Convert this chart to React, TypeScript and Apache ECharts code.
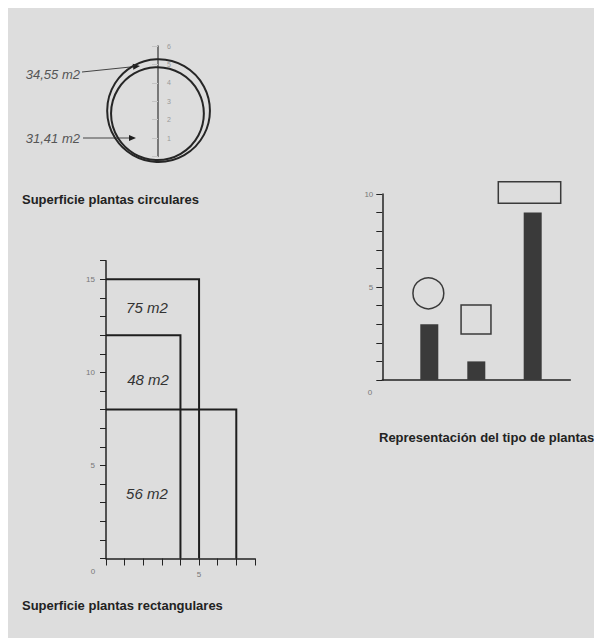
import React, { useEffect, useRef } from 'react';
import * as echarts from 'echarts';

// ---- circle chart ----
const circleLabels = ['34,55 m2', '31,41 m2'];
const circleCenterX = [0.03, -0.03];
const circleCenterY = [2.49, 2.33];
const circleRadius = [2.79, 2.52];

// ---- rectangle chart ----
const rectLabels = ['75 m2', '48 m2', '56 m2'];
const rectWidths = [5, 4, 7];
const rectHeights = [15, 12, 8];
const rectLabelX = [2.2, 2.26, 2.2];
const rectLabelY = [13.46, 9.6, 3.5];

// ---- plant type chart ----
const barX = [2.5, 5, 8];
const barValues = [3, 1, 9];
const iconCircle = [2.45, 4.66, 0.83];
const iconBoxes = [
  [4.19, 2.47, 5.78, 4.03],
  [6.17, 9.5, 9.49, 10.66],
];

const titles = [
  'Superficie plantas circulares',
  'Superficie plantas rectangulares',
  'Representación del tipo de plantas',
];

const FONT = '"Liberation Sans", Arial, sans-serif';

function arrow(x1: number, y1: number, x2: number, y2: number) {
  const dx = x2 - x1, dy = y2 - y1;
  const len = Math.sqrt(dx * dx + dy * dy);
  const ux = dx / len, uy = dy / len;
  const L = 7, W = 3;
  const bx = x2 - ux * L, by = y2 - uy * L;
  return [
    { type: 'polyline', silent: true, shape: { points: [[x1, y1], [bx, by]] }, style: { stroke: '#444', lineWidth: 1 } },
    {
      type: 'polygon', silent: true,
      shape: { points: [[x2, y2], [bx - uy * W, by + ux * W], [bx + uy * W, by - ux * W]] },
      style: { fill: '#1e1e1e' },
    },
  ];
}

const axisLabelBase = { fontSize: 8, color: '#777', fontFamily: FONT };
const titleStyle = { fontSize: 13, fontWeight: 'bold', fontFamily: FONT, fill: '#222', verticalAlign: 'middle' };
const noteStyle = { fontSize: 13, fontStyle: 'italic', fontFamily: FONT, fill: '#555', align: 'right', verticalAlign: 'middle' };

export default function App() {
  const ref = useRef<HTMLDivElement>(null);
  useEffect(() => {
    if (!ref.current) return;
    const chart = echarts.init(ref.current, null, { renderer: 'svg' });
    const option: any = {
      animation: false,
      backgroundColor: '#dddddd',
      textStyle: { fontFamily: FONT },
      grid: [
        { left: 150, top: 38, width: 60, height: 110.5 },
        { left: 98, top: 252.7, width: 148.9, height: 297.8 },
        { left: 374.3, top: 186, width: 188, height: 186 },
      ],
      xAxis: [
        { gridIndex: 0, type: 'value', min: 0, max: 3.25, show: false },
        {
          gridIndex: 1, type: 'value', min: 0, max: 8, interval: 1,
          axisLine: { lineStyle: { color: '#222', width: 1.5 } },
          axisTick: { length: 7, lineStyle: { color: '#222', width: 1 } },
          axisLabel: { ...axisLabelBase, margin: 12, formatter: (v: number) => (v === 5 ? String(v) : '') },
          splitLine: { show: false },
        },
        {
          gridIndex: 2, type: 'value', min: 0, max: 10,
          axisLine: { lineStyle: { color: '#222', width: 1.5 } },
          axisTick: { show: false }, axisLabel: { show: false }, splitLine: { show: false },
        },
      ],
      yAxis: [
        {
          gridIndex: 0, type: 'value', min: 0, max: 6, interval: 1,
          axisLine: { lineStyle: { color: '#555', width: 1.5 } },
          axisTick: { length: 6, lineStyle: { color: '#c4c4c4', width: 1 } },
          axisLabel: { ...axisLabelBase, fontSize: 7, color: '#999', inside: true, margin: 9, formatter: (v: number) => (v === 0 ? '' : String(v)) },
          splitLine: { show: false },
        },
        {
          gridIndex: 1, type: 'value', min: 0, max: 16, interval: 1,
          axisLine: { lineStyle: { color: '#222', width: 1.5 } },
          axisTick: { length: 6, lineStyle: { color: '#222', width: 1 } },
          axisLabel: { ...axisLabelBase, margin: 11, formatter: (v: number) => (v > 0 && v % 5 === 0 ? String(v) : '') },
          splitLine: { show: false },
        },
        {
          gridIndex: 2, type: 'value', min: 0, max: 10, interval: 1,
          axisLine: { lineStyle: { color: '#222', width: 1.5 } },
          axisTick: { length: 6, lineStyle: { color: '#222', width: 1 } },
          axisLabel: { ...axisLabelBase, margin: 9, formatter: (v: number) => (v > 0 && v % 5 === 0 ? String(v) : '') },
          splitLine: { show: false },
        },
      ],
      series: [
        {
          type: 'custom', xAxisIndex: 0, yAxisIndex: 0, clip: false, silent: true,
          data: circleRadius.map((r, i) => [circleCenterX[i], circleCenterY[i], r]),
          renderItem: (_p: any, api: any) => {
            const c = api.coord([api.value(0), api.value(1)]);
            const r = api.size([0, api.value(2)])[1];
            return { type: 'circle', shape: { cx: c[0], cy: c[1], r }, style: { fill: 'none', stroke: '#262626', lineWidth: 2 } };
          },
        },
        {
          type: 'custom', xAxisIndex: 1, yAxisIndex: 1, clip: false, silent: true,
          data: rectWidths.map((w, i) => [w, rectHeights[i]]),
          renderItem: (_p: any, api: any) => {
            const p = api.coord([0, api.value(1)]);
            const q = api.coord([api.value(0), 0]);
            return {
              type: 'polyline',
              shape: { points: [[p[0], p[1]], [q[0], p[1]], [q[0], q[1]]] },
              style: { fill: 'none', stroke: '#1e1e1e', lineWidth: 2 },
            };
          },
        },
        {
          type: 'custom', xAxisIndex: 1, yAxisIndex: 1, clip: false, silent: true,
          data: rectLabelX.map((x, i) => [x, rectLabelY[i], i]),
          renderItem: (_p: any, api: any) => {
            const c = api.coord([api.value(0), api.value(1)]);
            return {
              type: 'text', x: c[0], y: c[1],
              style: {
                text: rectLabels[api.value(2)], fontSize: 15, fontStyle: 'italic', fontFamily: FONT,
                fill: '#333', align: 'center', verticalAlign: 'middle',
              },
            };
          },
        },
        {
          type: 'bar', xAxisIndex: 2, yAxisIndex: 2, barWidth: 18, silent: true,
          itemStyle: { color: '#3a3a3a' },
          data: barX.map((x, i) => [x, barValues[i]]),
        },
        {
          type: 'custom', xAxisIndex: 2, yAxisIndex: 2, clip: false, silent: true,
          data: [iconCircle],
          renderItem: (_p: any, api: any) => {
            const c = api.coord([api.value(0), api.value(1)]);
            const r = api.size([0, api.value(2)])[1];
            return { type: 'circle', shape: { cx: c[0], cy: c[1], r }, style: { fill: 'none', stroke: '#3a3a3a', lineWidth: 1.5 } };
          },
        },
        {
          type: 'custom', xAxisIndex: 2, yAxisIndex: 2, clip: false, silent: true,
          data: iconBoxes,
          renderItem: (_p: any, api: any) => {
            const a = api.coord([api.value(0), api.value(3)]);
            const b = api.coord([api.value(2), api.value(1)]);
            return {
              type: 'rect', shape: { x: a[0], y: a[1], width: b[0] - a[0], height: b[1] - a[1] },
              style: { fill: 'none', stroke: '#3a3a3a', lineWidth: 1.5 },
            };
          },
        },
      ],
      graphic: [
        ...arrow(74, 64, 132, 58),
        ...arrow(75, 130, 128, 130),
        { type: 'text', silent: true, x: 72, y: 66, style: { text: circleLabels[0], ...noteStyle } },
        { type: 'text', silent: true, x: 72, y: 130, style: { text: circleLabels[1], ...noteStyle } },
        { type: 'text', silent: true, x: 14, y: 191, style: { text: titles[0], ...titleStyle } },
        { type: 'text', silent: true, x: 14, y: 597, style: { text: titles[1], ...titleStyle } },
        { type: 'text', silent: true, x: 371, y: 429, style: { text: titles[2], ...titleStyle } },
        { type: 'text', silent: true, x: 85, y: 563, style: { text: '0', fontSize: 8, fontFamily: FONT, fill: '#777', align: 'center', verticalAlign: 'middle' } },
        { type: 'text', silent: true, x: 362, y: 384, style: { text: '0', fontSize: 8, fontFamily: FONT, fill: '#777', align: 'center', verticalAlign: 'middle' } },
      ],
    };
    chart.setOption(option);
    return () => chart.dispose();
  }, []);
  return <div ref={ref} style={{ width: 594, height: 630, background: '#dddddd' }} />;
}
